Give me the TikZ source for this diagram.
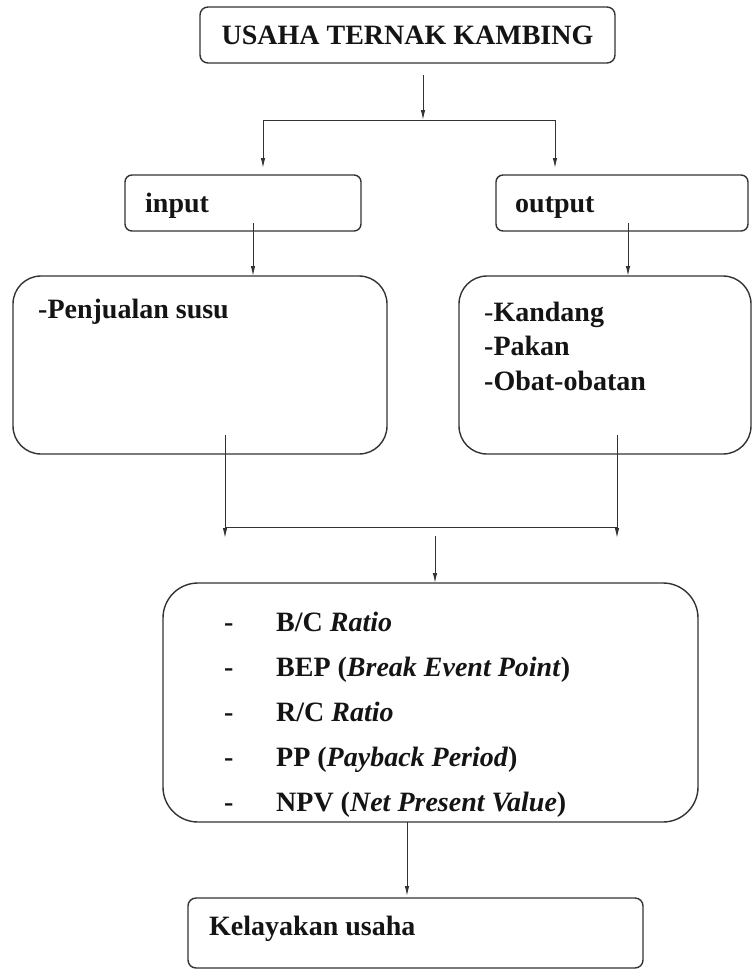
\documentclass[tikz,border=0pt]{standalone}
\usepackage{fontspec}
\setmainfont{Liberation Serif}
\usetikzlibrary{arrows.meta}
\definecolor{edge}{HTML}{333333}
\definecolor{ink}{HTML}{141414}
\begin{document}
\begin{tikzpicture}[x=1pt,y=-1pt,
  box/.style={draw=edge, line width=1.4pt, rectangle, anchor=north west, inner sep=0pt, outer sep=0pt},
  txt/.style={anchor=base west, inner sep=0pt, text=ink, font=\fontsize{28}{32}\selectfont\bfseries},
  line/.style={draw=edge, line width=1pt},
  arr/.style={line, -{Latex[length=10pt,width=4.5pt]}}]
\useasboundingbox (0,0) rectangle (753,970);
% boxes
\node[box, rounded corners=8pt, minimum width=415pt, minimum height=56pt, anchor=north west,
      text=ink, font=\fontsize{28}{32}\selectfont\bfseries] (top) at (200,7) {USAHA TERNAK KAMBING};
\node[box, rounded corners=7pt, minimum width=236pt, minimum height=56pt] (in) at (125,175) {};
\node[box, rounded corners=7pt, minimum width=252pt, minimum height=56pt] (out) at (496,175) {};
\node[box, rounded corners=28pt, minimum width=374pt, minimum height=178pt] (lbox) at (13,276) {};
\node[box, rounded corners=28pt, minimum width=292pt, minimum height=178pt] (rbox) at (459,276) {};
\node[box, rounded corners=35pt, minimum width=535pt, minimum height=239pt] (mbox) at (163,583) {};
\node[box, rounded corners=8pt, minimum width=455pt, minimum height=70pt] (bbox) at (188,898) {};
% texts
\node[txt] (tin) at (145,212) {input};
\node[txt] (tout) at (515,212) {output};
\node[txt] (tpen) at (38,318) {-Penjualan susu};
\node[txt] (tk) at (484,321) {{\mdseries -}Kandang};
\node[txt] (tp) at (484,355) {-Pakan};
\node[txt] (to) at (484,390) {-Obat-obatan};
\node[txt] (d1) at (224,631) {-};
\node[txt] (d2) at (224,676) {-};
\node[txt] (d3) at (224,721) {-};
\node[txt] (d4) at (224,766) {-};
\node[txt] (d5) at (224,811) {-};
\node[txt] (m1t) at (276,631) {B/C \textit{Ratio}};
\node[txt] (m2t) at (276,676) {BEP (\textit{Break Event Point})};
\node[txt] (m3t) at (276,721) {R/C \textit{Ratio}};
\node[txt] (m4t) at (276,766) {PP (\textit{Payback Period})};
\node[txt] (m5t) at (276,811) {NPV (\textit{Net Present Value})};
\node[txt] (tkel) at (209,935) {Kelayakan usaha};
% junction coordinates
\coordinate (j1) at (423,120);
\coordinate (hl) at (263,120);
\coordinate (hr) at (555,120);
\coordinate (xa) at (253,250);
\coordinate (xb) at (628,250);
\coordinate (m1) at (225,527);
\coordinate (m2) at (617,527);
\coordinate (m3) at (435,527);
\coordinate (xc) at (407,860);
% connectors
\draw[arr] ([yshift=-12pt]top.south -| j1) -- (j1);
\draw[line] (hl) -- (hr);
\draw[arr, shorten >=7pt] (hl) -- (in.north -| hl);
\draw[arr, shorten >=7pt] (hr) -- (out.north -| hr);
\draw[arr] ([yshift=8pt]in.south -| xa) -- (lbox.north -| xa);
\draw[arr] ([yshift=8pt]out.south -| xb) -- (rbox.north -| xb);
\draw[arr] ([yshift=19pt]lbox.south -| m1) -- ([yshift=-11pt]m1);
\draw[arr] ([yshift=19pt]rbox.south -| m2) -- ([yshift=-11pt]m2);
\draw[line] (m1) -- (m2);
\draw[arr] ([yshift=-9pt]m3) -- (mbox.north -| m3);
\draw[arr, shorten >=2pt] (mbox.south -| xc) -- (bbox.north -| xc);
\end{tikzpicture}
\end{document}
